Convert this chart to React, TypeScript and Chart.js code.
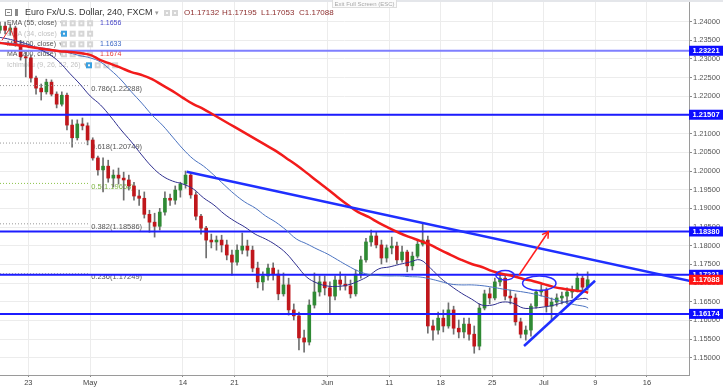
import React, { useEffect, useRef } from 'react';
import { Chart, registerables } from 'chart.js';

Chart.register(...registerables);

const FONT = '"Liberation Sans", Arial, Helvetica, sans-serif';

// ---- time axis: trading-day index (0 = Mon 23 Apr 2018), two sessions per day
const firstDay = -3;
const X_MIN = -2.745;
const X_MAX = 64.08;
const dateTicks = [0, 6, 15, 20, 29, 35, 40, 45, 50, 55, 60];
const dateLabels = ['23', 'May', '14', '21', 'Jun', '11', '18', '25', 'Jul', '9', '16'];

// ---- price axis
const Y_MIN = 1.14537;
const Y_MAX = 1.2458;
const priceTicks = [1.15, 1.155, 1.16, 1.165, 1.17, 1.175, 1.18, 1.185, 1.19, 1.195, 1.2, 1.205, 1.21, 1.215, 1.22, 1.225, 1.23, 1.235, 1.24];

// ---- half-day candles
const opens = [1.2377,1.2388,1.2377,1.2383,1.2340,1.2306,1.2303,1.2249,1.2222,1.2212,
1.2238,1.2206,1.2179,1.2203,1.2123,1.2089,1.2126,1.2121,1.2083,1.2035,
1.2003,1.2013,1.1981,1.1989,1.1981,1.1976,1.1960,1.1933,1.1927,1.1884,
1.1863,1.1852,1.1890,1.1927,1.1922,1.1949,1.1965,1.1989,1.1936,1.1879,
1.1847,1.1815,1.1810,1.1815,1.1802,1.1775,1.1756,1.1788,1.1799,1.1788,
1.1740,1.1703,1.1719,1.1740,1.1724,1.1671,1.1695,1.1628,1.1612,1.1553,
1.1542,1.1641,1.1676,1.1703,1.1687,1.1665,1.1708,1.1697,1.1692,1.1671,
1.1724,1.1762,1.1810,1.1826,1.1802,1.1767,1.1794,1.1799,1.1762,1.1783,
1.1746,1.1772,1.1804,1.1815,1.1585,1.1574,1.1606,1.1585,1.1628,1.1579,
1.1569,1.1590,1.1563,1.1531,1.1633,1.1671,1.1660,1.1703,1.1713,1.1665,
1.1660,1.1596,1.1563,1.1574,1.1638,1.1676,1.1681,1.1638,1.1649,1.1660,
1.1665,1.1676,1.1681,1.1713,1.1689];
const highs = [1.2399,1.2399,1.2394,1.2388,1.2350,1.2319,1.2311,1.2254,1.2233,1.2246,
1.2244,1.2212,1.2212,1.2209,1.2137,1.2137,1.2142,1.2129,1.2089,1.2040,
1.2035,1.2029,1.2003,1.2008,1.1997,1.1989,1.1970,1.1949,1.1944,1.1895,
1.1887,1.1900,1.1944,1.1938,1.1960,1.1970,1.2000,1.1995,1.1944,1.1884,
1.1852,1.1831,1.1826,1.1828,1.1815,1.1788,1.1802,1.1834,1.1815,1.1799,
1.1756,1.1730,1.1751,1.1754,1.1735,1.1727,1.1713,1.1644,1.1622,1.1574,
1.1655,1.1727,1.1719,1.1719,1.1703,1.1719,1.1730,1.1719,1.1708,1.1735,
1.1772,1.1820,1.1842,1.1836,1.1815,1.1802,1.1823,1.1810,1.1799,1.1788,
1.1783,1.1815,1.1858,1.1826,1.1601,1.1622,1.1628,1.1647,1.1638,1.1601,
1.1606,1.1606,1.1585,1.1644,1.1681,1.1687,1.1713,1.1727,1.1719,1.1681,
1.1671,1.1606,1.1585,1.1644,1.1681,1.1695,1.1687,1.1660,1.1671,1.1676,
1.1687,1.1692,1.1727,1.1719,1.1730];
const lows = [1.2369,1.2367,1.2364,1.2334,1.2297,1.2252,1.2238,1.2206,1.2190,1.2206,
1.2201,1.2169,1.2174,1.2110,1.2064,1.2083,1.2110,1.2070,1.2029,1.1989,
1.1944,1.1970,1.1957,1.1965,1.1922,1.1949,1.1922,1.1908,1.1874,1.1836,
1.1823,1.1842,1.1882,1.1908,1.1911,1.1930,1.1954,1.1927,1.1869,1.1831,
1.1767,1.1794,1.1788,1.1783,1.1762,1.1721,1.1748,1.1778,1.1772,1.1730,
1.1687,1.1681,1.1708,1.1708,1.1655,1.1665,1.1614,1.1601,1.1521,1.1515,
1.1534,1.1633,1.1665,1.1668,1.1620,1.1655,1.1681,1.1681,1.1660,1.1665,
1.1713,1.1756,1.1799,1.1794,1.1751,1.1756,1.1778,1.1751,1.1756,1.1730,
1.1735,1.1767,1.1799,1.1566,1.1547,1.1563,1.1569,1.1579,1.1563,1.1553,
1.1553,1.1547,1.1512,1.1521,1.1628,1.1644,1.1655,1.1692,1.1655,1.1644,
1.1587,1.1553,1.1547,1.1558,1.1633,1.1665,1.1622,1.1601,1.1638,1.1644,
1.1644,1.1660,1.1676,1.1676,1.1681];
const closes = [1.2388,1.2377,1.2383,1.2340,1.2306,1.2303,1.2249,1.2222,1.2212,1.2238,
1.2206,1.2179,1.2203,1.2123,1.2089,1.2126,1.2121,1.2083,1.2035,1.2003,
1.2013,1.1981,1.1989,1.1981,1.1976,1.1960,1.1933,1.1927,1.1884,1.1863,
1.1852,1.1890,1.1927,1.1922,1.1949,1.1965,1.1989,1.1936,1.1879,1.1847,
1.1815,1.1810,1.1815,1.1802,1.1775,1.1756,1.1788,1.1799,1.1788,1.1740,
1.1703,1.1719,1.1740,1.1724,1.1671,1.1695,1.1628,1.1612,1.1553,1.1542,
1.1641,1.1676,1.1703,1.1687,1.1665,1.1708,1.1697,1.1692,1.1671,1.1724,
1.1762,1.1810,1.1826,1.1802,1.1767,1.1794,1.1799,1.1762,1.1783,1.1746,
1.1772,1.1804,1.1815,1.1585,1.1574,1.1606,1.1585,1.1628,1.1579,1.1569,
1.1590,1.1563,1.1531,1.1633,1.1671,1.1660,1.1703,1.1713,1.1665,1.1660,
1.1596,1.1563,1.1574,1.1638,1.1676,1.1681,1.1638,1.1649,1.1660,1.1665,
1.1676,1.1681,1.1713,1.1689,1.17088];

// ---- moving averages (sampled at day starts, last point = current bar)
const maDays = [-3,-2,-1,0,1,2,3,4,5,6,7,8,9,10,11,12,13,14,15,16,17,18,19,20,21,22,23,24,25,26,27,28,29,30,31,32,33,34,35,36,37,38,39,40,41,42,43,44,45,46,47,48,49,50,51,52,53,54,54.3];
const ma200 = [1.2344,1.2340,1.2337,1.2333,1.2329,1.2325,1.2321,1.2319,1.2316,1.2311,
1.2297,1.2287,1.2276,1.2265,1.2257,1.2246,1.2230,1.2214,1.2196,1.2179,
1.2166,1.2150,1.2134,1.2118,1.2102,1.2086,1.2070,1.2054,1.2035,1.2016,
1.1995,1.1973,1.1952,1.1930,1.1909,1.1890,1.1877,1.1861,1.1847,1.1834,
1.1823,1.1813,1.1802,1.1788,1.1775,1.1762,1.1751,1.1743,1.1732,1.1724,
1.1719,1.1711,1.1705,1.1697,1.1689,1.1684,1.1680,1.1677,1.1674];
const ema55 = [1.2359,1.2354,1.2347,1.2339,1.2327,1.2313,1.2292,1.2262,1.2233,1.2201,
1.2177,1.2145,1.2110,1.2078,1.2043,1.2011,1.1987,1.1973,1.1965,1.1952,
1.1928,1.1909,1.1885,1.1866,1.1850,1.1831,1.1818,1.1802,1.1780,1.1748,
1.1716,1.1700,1.1692,1.1691,1.1695,1.1705,1.1719,1.1738,1.1743,1.1750,
1.1756,1.1762,1.1740,1.1713,1.1692,1.1673,1.1657,1.1641,1.1641,1.1649,
1.1646,1.1633,1.1633,1.1636,1.1641,1.1649,1.1655,1.1659,1.1656];
const ma100 = [1.2345,1.2343,1.2340,1.2336,1.2331,1.2327,1.2321,1.2316,1.2309,1.2303,
1.2292,1.2270,1.2244,1.2212,1.2182,1.2150,1.2123,1.2091,1.2059,1.2032,
1.2013,1.1989,1.1963,1.1938,1.1917,1.1901,1.1880,1.1863,1.1842,1.1818,
1.1805,1.1791,1.1778,1.1762,1.1746,1.1732,1.1723,1.1720,1.1719,1.1719,
1.1717,1.1716,1.1711,1.1704,1.1697,1.1695,1.1695,1.1693,1.1689,1.1684,
1.1680,1.1676,1.1671,1.1664,1.1656,1.1649,1.1642,1.1637,1.1633];

// ---- drawings
const levelPrices = [1.23221, 1.21507, 1.1838, 1.17221, 1.16174];
const lastPrice = 1.17088;
const fibRatios = ['0.786', '0.618', '0.5', '0.382', '0.236'];
const fibPrices = [1.22288, 1.20749, 1.19668, 1.18586, 1.17249];
const fibLineDays = [-2.745, 5.98];
const fibLabelDay = 6.1;
const downTrendDays = [15.36, 64.1];
const downTrendPrices = [1.1998, 1.1706];
const upTrendDays = [48.08, 54.97];
const upTrendPrices = [1.15313, 1.17062];
const arrowDays = [47.6, 50.44];
const arrowPrices = [1.17215, 1.18374];
const ellipseDays = [46.24, 49.56];
const ellipsePrices = [1.17207, 1.16995];
const ellipseHalfDays = [0.9, 1.62];
const ellipseHalfPrices = [0.00126, 0.00196];
const redMarkDays = [-2.55, -1.775, -1.096];
const redMarkPrices = [1.235, 1.2383, 1.234];
const ohlcHeader = ['O1.17132', 'H1.17195', 'L1.17053', 'C1.17088'];

const overlay = {
  id: 'overlay',
  beforeDatasetsDraw(chart: any) {
    const { ctx } = chart;
    const x = chart.scales.x;
    const y = chart.scales.y;
    ctx.save();
    ctx.textBaseline = 'middle';
    ctx.textAlign = 'left';
    // fib labels
    ctx.font = `7.5px ${FONT}`;
    fibRatios.forEach((r, i) => {
      ctx.fillStyle = r === '0.5' ? '#7cb342' : '#555';
      ctx.fillText(`${r}(${fibPrices[i].toFixed(5)})`, x.getPixelForValue(fibLabelDay), y.getPixelForValue(fibPrices[i]) + 3.5);
    });
    // top band
    ctx.fillStyle = '#e4e6ea';
    ctx.fillRect(0, 0, chart.width, 2);
    // header
    ctx.strokeStyle = '#8a8a8a';
    ctx.lineWidth = 1;
    ctx.strokeRect(5.5, 9.5, 6, 6);
    ctx.beginPath(); ctx.moveTo(7, 12.5); ctx.lineTo(10, 12.5); ctx.stroke();
    ctx.fillStyle = '#8a8a8a';
    ctx.fillRect(15, 9, 3, 7);
    ctx.font = `9px ${FONT}`;
    ctx.fillStyle = '#333';
    ctx.fillText('Euro Fx/U.S. Dollar, 240, FXCM', 25, 13);
    ctx.font = `7px ${FONT}`;
    ctx.fillStyle = '#999';
    ctx.fillText('▾', 155, 13);
    const icon = (ix: number, iy: number, blue: boolean) => {
      ctx.fillStyle = blue ? '#3aa0e0' : '#d6d6d6';
      ctx.fillRect(ix, iy - 3, 6, 6);
      ctx.fillStyle = '#f8f8f8';
      ctx.fillRect(ix + 2, iy - 1, 2, 2);
    };
    icon(164, 13, false);
    icon(172, 13, false);
    ctx.font = `8px ${FONT}`;
    ctx.fillStyle = '#8e2f2f';
    const hx = [184, 222, 261, 299];
    ohlcHeader.forEach((t, i) => ctx.fillText(t, hx[i], 13));
    // study rows
    const rows = [
      { t: 'EMA (55, close)', y: 23.3, c: '#555', v: ema55[ema55.length - 1].toFixed(4), vc: '#4848c8', ix: 61, blue: false },
      { t: 'EMA (34, close)', y: 33.7, c: '#c2c2c2', v: '', vc: '', ix: 61, blue: true },
      { t: 'MA (100, close)', y: 44.3, c: '#555', v: ma100[ma100.length - 1].toFixed(4), vc: '#3a66c4', ix: 61, blue: false },
      { t: 'MA (200, close)', y: 54.3, c: '#555', v: ma200[ma200.length - 1].toFixed(4), vc: '#e53935', ix: 61, blue: false },
      { t: 'Ichimoku (9, 26, 52, 26)', y: 65.3, c: '#c2c2c2', v: '', vc: '', ix: 86, blue: true },
    ];
    rows.forEach((r) => {
      ctx.font = `7px ${FONT}`;
      ctx.fillStyle = r.c;
      ctx.fillText(r.t, 7, r.y);
      const w = ctx.measureText(r.t).width;
      ctx.fillStyle = '#aaa';
      ctx.fillText('▾', 7 + w + 3, r.y);
      for (let j = 0; j < 4; j++) icon(r.ix + j * 8.7, r.y, r.blue && j === 0);
      if (r.v) {
        ctx.font = `7px ${FONT}`;
        ctx.fillStyle = r.vc;
        ctx.fillText(r.v, 100, r.y);
      }
    });
    ctx.restore();
  },
  afterDraw(chart: any) {
    const { ctx, chartArea } = chart;
    const x = chart.scales.x;
    const y = chart.scales.y;
    ctx.save();
    ctx.beginPath();
    ctx.rect(chartArea.left, chartArea.top, chartArea.right - chartArea.left, chartArea.bottom - chartArea.top);
    ctx.clip();
    ctx.strokeStyle = '#2a2aff';
    ctx.lineWidth = 1.5;
    ellipseDays.forEach((d, i) => {
      const cx = x.getPixelForValue(d);
      const cy = y.getPixelForValue(ellipsePrices[i]);
      const rx = Math.abs(x.getPixelForValue(d + ellipseHalfDays[i]) - cx);
      const ry = Math.abs(y.getPixelForValue(ellipsePrices[i] + ellipseHalfPrices[i]) - cy);
      ctx.beginPath();
      ctx.ellipse(cx, cy, rx, ry, 0, 0, Math.PI * 2);
      ctx.stroke();
    });
    const ax0 = x.getPixelForValue(arrowDays[0]);
    const ay0 = y.getPixelForValue(arrowPrices[0]);
    const ax1 = x.getPixelForValue(arrowDays[1]);
    const ay1 = y.getPixelForValue(arrowPrices[1]);
    const ang = Math.atan2(ay1 - ay0, ax1 - ax0);
    ctx.strokeStyle = '#ff1f1f';
    ctx.lineWidth = 1.5;
    ctx.beginPath();
    ctx.moveTo(ax1 + 7 * Math.cos(ang + 2.6), ay1 + 7 * Math.sin(ang + 2.6));
    ctx.lineTo(ax1, ay1);
    ctx.lineTo(ax1 + 7 * Math.cos(ang - 2.6), ay1 + 7 * Math.sin(ang - 2.6));
    ctx.stroke();
    ctx.restore();

    ctx.save();
    ctx.textBaseline = 'middle';
    ctx.textAlign = 'left';
    ctx.font = `bold 7.5px ${FONT}`;
    const lab = (v: number, color: string) => {
      const py = y.getPixelForValue(v);
      ctx.fillStyle = color;
      ctx.fillRect(chartArea.right, py - 5, chart.width - chartArea.right, 10);
      ctx.fillStyle = '#fff';
      ctx.fillText(v.toFixed(5), chartArea.right + 3.5, py + 0.5);
    };
    levelPrices.forEach((v) => lab(v, '#0d0dff'));
    lab(lastPrice, '#ff1414');
    ctx.fillStyle = '#fbfbfb';
    ctx.fillRect(332, 0, 65, 7.5);
    ctx.strokeStyle = '#dddddd';
    ctx.lineWidth = 1;
    ctx.strokeRect(332.5, -0.5, 64, 8);
    ctx.fillStyle = '#a8a8a8';
    ctx.font = `6px ${FONT}`;
    ctx.textAlign = 'center';
    ctx.fillText('Exit Full Screen (ESC)', 364.5, 4);
    ctx.restore();
  },
};

export default function App() {
  const ref = useRef<HTMLCanvasElement>(null);
  useEffect(() => {
    const canvas = ref.current;
    if (!canvas) return;
    const times = opens.map((_, i) => firstDay + 0.25 + i * 0.5);
    const bodies = times.map((t, i) => ({ x: t, y: [Math.min(opens[i], closes[i]), Math.max(opens[i], closes[i])] }));
    const wicks = times.map((t, i) => ({ x: t, y: [lows[i], highs[i]] }));
    const bodyColors = times.map((_, i) => (closes[i] >= opens[i] ? '#2f8a34' : '#c0171c'));
    const pts = (xs: number[], ys: number[]) => xs.map((v, i) => ({ x: v, y: ys[i] }));
    const lineDs = (data: any[], color: string, width: number, order: number, extra: any = {}) => ({
      type: 'line',
      data,
      borderColor: color,
      borderWidth: width,
      pointRadius: 0,
      fill: false,
      order,
      ...extra,
    });

    const datasets: any[] = [
      { type: 'bar', data: wicks, backgroundColor: '#6f6f6f', barThickness: 1, grouped: false, order: 30 },
      { type: 'bar', data: bodies, backgroundColor: bodyColors, barThickness: 3, grouped: false, order: 29 },
    ];
    fibPrices.forEach((p, i) => {
      datasets.push(lineDs(pts(fibLineDays, [p, p]), fibRatios[i] === '0.5' ? '#8bc34a' : '#9a9a9a', 1, 28, { borderDash: [1, 2] }));
    });
    levelPrices.forEach((p, i) => {
      datasets.push(lineDs(pts([X_MIN, X_MAX], [p, p]), i === 0 ? '#7f7fff' : '#1c1cff', 2, 6));
    });
    datasets.push(lineDs(pts(maDays, ma100), '#4a72c0', 1, 5, { tension: 0.4 }));
    datasets.push(lineDs(pts(maDays, ema55), '#2f2f8f', 1, 5, { tension: 0.4 }));
    datasets.push(lineDs(pts(maDays, ma200), '#f21b1b', 2.5, 4, { tension: 0.4 }));
    datasets.push(lineDs(pts(redMarkDays, redMarkPrices), '#f03030', 1, 4));
    datasets.push(lineDs(pts(downTrendDays, downTrendPrices), '#1f2fff', 2.5, 3));
    datasets.push(lineDs(pts(upTrendDays, upTrendPrices), '#1f2fff', 2.5, 3));
    datasets.push(lineDs(pts(arrowDays, arrowPrices), '#ff1f1f', 1.5, 2));

    const chart = new Chart(canvas, {
      type: 'bar',
      data: { datasets },
      options: {
        animation: false,
        responsive: false,
        maintainAspectRatio: false,
        events: [],
        layout: { padding: 0, autoPadding: false },
        plugins: { legend: { display: false }, tooltip: { enabled: false } },
        scales: {
          x: {
            type: 'linear',
            position: 'bottom',
            offset: false,
            min: X_MIN,
            max: X_MAX,
            afterBuildTicks: (s: any) => {
              s.ticks = dateTicks.map((v) => ({ value: v }));
            },
            afterFit: (s: any) => {
              s.height = 12;
              s.paddingLeft = 0;
              s.paddingRight = 0;
            },
            ticks: {
              autoSkip: false,
              maxRotation: 0,
              padding: 1,
              color: '#444',
              font: { family: FONT, size: 7.5 },
              callback: (v: any) => {
                const i = dateTicks.indexOf(Number(v));
                return i >= 0 ? dateLabels[i] : '';
              },
            },
            grid: { offset: false, color: '#ececec', lineWidth: 1, drawTicks: true, tickLength: 2, tickColor: '#8a8a8a' },
            border: { color: '#9a9a9a', width: 1 },
          },
          y: {
            type: 'linear',
            position: 'right',
            min: Y_MIN,
            max: Y_MAX,
            afterBuildTicks: (s: any) => {
              s.ticks = priceTicks.map((v) => ({ value: v }));
            },
            afterFit: (s: any) => {
              s.width = 34;
              s.paddingTop = 0;
              s.paddingBottom = 0;
            },
            ticks: {
              autoSkip: false,
              padding: 1,
              color: '#555',
              font: { family: FONT, size: 7.5 },
              callback: (v: any) => Number(v).toFixed(5),
            },
            grid: { color: '#ececec', lineWidth: 1, drawTicks: true, tickLength: 3, tickColor: '#8a8a8a' },
            border: { color: '#9a9a9a', width: 1 },
          },
        },
      } as any,
      plugins: [overlay],
    } as any);
    return () => chart.destroy();
  }, []);

  return (
    <div style={{ position: 'fixed', left: 0, top: 0, width: 723, height: 387, background: '#fff' }}>
      <canvas ref={ref} width={723} height={387} style={{ display: 'block', width: 723, height: 387 }} />
    </div>
  );
}
